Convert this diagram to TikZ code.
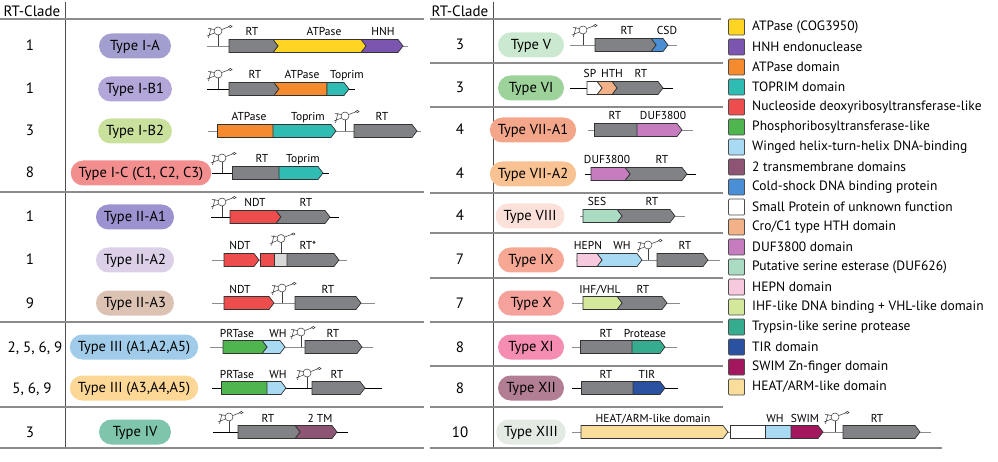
\documentclass[tikz,border=0pt]{standalone}
\usepackage{fontspec}
\setmainfont{PT Sans}
\usepackage{xcolor}
\usepackage{tikz}

%Domain colours
\definecolor{cRT}{HTML}{808285}
\definecolor{cCOG}{HTML}{FFD422}
\definecolor{cHNH}{HTML}{7B55B0}
\definecolor{cATP}{HTML}{F58A2E}
\definecolor{cTop}{HTML}{2EBCB3}
\definecolor{cNDT}{HTML}{EE4D4E}
\definecolor{cPRT}{HTML}{4EB54F}
\definecolor{cWH}{HTML}{A8DAF3}
\definecolor{cTM}{HTML}{8E5473}
\definecolor{cCSD}{HTML}{4A8ED6}
\definecolor{cSP}{HTML}{FFFFFF}
\definecolor{cHTH}{HTML}{F2B187}
\definecolor{cDUF}{HTML}{C57DBF}
\definecolor{cSES}{HTML}{A9DCC2}
\definecolor{cHEPN}{HTML}{F6C9DF}
\definecolor{cIHF}{HTML}{D4E89C}
\definecolor{cTRY}{HTML}{36AC8E}
\definecolor{cTIR}{HTML}{2B51A1}
\definecolor{cSWIM}{HTML}{A3175E}
\definecolor{cHEAT}{HTML}{F9DD9B}
\definecolor{cPart}{HTML}{D9D9D9}

%Type colours
\definecolor{pIA}{HTML}{A39ED0}
\definecolor{pIBa}{HTML}{B3A7D9}
\definecolor{pIBb}{HTML}{C9E19D}
\definecolor{pIC}{HTML}{F28E8E}
\definecolor{pIIAa}{HTML}{9C92D0}
\definecolor{pIIAb}{HTML}{DCD0E8}
\definecolor{pIIAc}{HTML}{DCC2B3}
\definecolor{pIIIa}{HTML}{A0CCEA}
\definecolor{pIIIb}{HTML}{FCD796}
\definecolor{pIV}{HTML}{7EC5AC}
\definecolor{pV}{HTML}{CBE9D0}
\definecolor{pVI}{HTML}{9DD29B}
\definecolor{pVIIAa}{HTML}{F4A68B}
\definecolor{pVIIAb}{HTML}{F8C292}
\definecolor{pVIII}{HTML}{FCE1DB}
\definecolor{pIX}{HTML}{F7A895}
\definecolor{pX}{HTML}{F4A29B}
\definecolor{pXI}{HTML}{F48DB1}
\definecolor{pXII}{HTML}{B27E94}
\definecolor{pXIII}{HTML}{E3E9E3}

%Gene shapes: fill, x start, x end, y
\newcommand{\genearrow}[4]{\filldraw[gene, fill=#1] (#2,#4-6.5) -- (#3-5,#4-6.5) -- (#3,#4) -- (#3-5,#4+6.5) -- (#2,#4+6.5) -- cycle;}
\newcommand{\genenotch}[4]{\filldraw[gene, fill=#1] (#2,#4-6.5) -- (#3-5,#4-6.5) -- (#3,#4) -- (#3-5,#4+6.5) -- (#2,#4+6.5) -- (#2+5,#4) -- cycle;}
\newcommand{\genebar}[4]{\filldraw[gene, fill=#1] (#2,#4-6.5) rectangle (#3,#4+6.5);}
\newcommand{\genenotchbar}[4]{\filldraw[gene, fill=#1] (#2,#4-6.5) -- (#3,#4-6.5) -- (#3,#4+6.5) -- (#2,#4+6.5) -- (#2+5,#4) -- cycle;}

%ncRNA hairpin
\newcommand{\ncrna}[2]{%
	\begin{scope}[shift={(#1,#2)}]
		\draw[rna] (0,0) -- (0,-11);
		\draw[rna] (0,-15) circle[radius=4pt];
		\draw[rna] (-3.5,-13) -- (-11,-10) (-3.5,-16.5) -- (-10,-17.5) (-9.5,-8) -- (-7,-18);
		\draw[rna] (3.8,-16.5) -- (10.5,-19);
		\draw[rna] (12.3,-19.5) ellipse[x radius=1.8pt, y radius=1.1pt];
	\end{scope}}

\begin{document}
\begin{tikzpicture}[x=1pt, y=-1pt,
	gene/.style={draw=black!80, line width=0.7pt},
	track/.style={line width=0.9pt, black},
	trackgray/.style={line width=0.9pt, black!45},
	rna/.style={line width=0.55pt, black!75},
	rule/.style={line width=1pt, black!70},
	sep/.style={line width=1.2pt, black!45},
	pill/.style={rounded corners=12.5pt, minimum height=25pt, minimum width=72pt, inner xsep=8pt, font=\fontsize{14.5}{17}\selectfont, text height=11pt, text depth=2pt},
	clade/.style={anchor=base, font=\fontsize{15}{17}\selectfont},
	genelabel/.style={anchor=base, inner sep=0pt, font=\fontsize{11.5}{14}\selectfont},
	keybox/.style={draw=black!70, line width=0.7pt, rounded corners=1pt, minimum size=16pt, inner sep=0pt},
	keytext/.style={anchor=west, inner sep=0pt, font=\fontsize{13.5}{15}\selectfont}]
	\useasboundingbox (0,0) rectangle (998,462);

	%Table lines
	\draw[rule] (65,2) -- (65,448);
	\draw[rule] (493,2) -- (493,448);
	\draw[sep] (0,19) -- (424,19);
	\draw[sep] (0,192) -- (424,192);
	\draw[sep] (0,322) -- (424,322);
	\draw[sep] (0,407) -- (424,407);
	\draw[sep] (0,448) -- (424,448);
	\draw[sep] (430,19) -- (721,19);
	\draw[sep] (430,63) -- (723,63);
	\draw[sep] (430,107) -- (723,107);
	\draw[sep] (430,193) -- (723,193);
	\draw[sep] (430,233) -- (723,233);
	\draw[sep] (430,278) -- (723,278);
	\draw[sep] (430,322) -- (723,322);
	\draw[sep] (430,366) -- (723,366);
	\draw[sep] (430,407) -- (723,407);
	\draw[sep] (430,448) -- (942,448);

	%Headers
	\node[clade] (hleft) at (32,16.7) {RT-Clade};
	\node[clade] (hright) at (460,16.7) {RT-Clade};

	%Type I-A
	\node[clade] (nia) at (30,51) {1};
	\node[pill, fill=pIA] (tia) at (135,46) {Type I-A};
	\draw[trackgray] (207,46) -- (408,46);
	\ncrna{218}{46}
	\genenotch{cHNH}{361}{403}{46}
	\genenotch{cCOG}{273}{366}{46}
	\genearrow{cRT}{229}{278}{46}
	\node[genelabel] (lia1) at (252,36) {RT};
	\node[genelabel] (lia2) at (324,36) {ATPase};
	\node[genelabel] (lia3) at (383,36) {HNH};

	%Type I-B1
	\node[clade] (niba) at (30,94) {1};
	\node[pill, fill=pIBa] (tiba) at (135,89) {Type I-B1};
	\draw[track] (207,89) -- (355,89);
	\ncrna{218}{89}
	\genearrow{cRT}{229}{279}{89}
	\genenotchbar{cATP}{274}{327}{89}
	\genearrow{cTop}{327}{349}{89}
	\node[genelabel] (liba1) at (255,79) {RT};
	\node[genelabel] (liba2) at (302,79) {ATPase};
	\node[genelabel] (liba3) at (347,79) {Toprim};

	%Type I-B2
	\node[clade] (nibb) at (30,136) {3};
	\node[pill, fill=pIBb] (tibb) at (135,131) {Type I-B2};
	\draw[trackgray] (208,131) -- (421,131);
	\genebar{cATP}{217}{273}{131}
	\genearrow{cTop}{273}{336}{131}
	\ncrna{345}{131}
	\genearrow{cRT}{354}{417}{131}
	\node[genelabel] (libb1) at (249,121) {ATPase};
	\node[genelabel] (libb2) at (308,121) {Toprim};
	\node[genelabel] (libb3) at (382,121) {RT};

	%Type I-C
	\node[clade] (nic) at (30,178) {8};
	\node[pill, fill=pIC] (tic) at (141,173) {Type I-C (C1, C2, C3)};
	\draw[track] (212,173) -- (329,173);
	\ncrna{222}{173}
	\genebar{cRT}{232}{279}{173}
	\genearrow{cTop}{279}{323}{173}
	\node[genelabel] (lic1) at (262,163) {RT};
	\node[genelabel] (lic2) at (303,163) {Toprim};

	%Type II-A1
	\node[clade] (niiaa) at (30,222) {1};
	\node[pill, fill=pIIAa] (tiiaa) at (135,217) {Type II-A1};
	\draw[track] (211,217) -- (339,217);
	\ncrna{222}{217}
	\genearrow{cNDT}{230}{281}{217}
	\genenotch{cRT}{276}{330}{217}
	\node[genelabel] (liiaa1) at (255,207) {NDT};
	\node[genelabel] (liiaa2) at (306,207) {RT};

	%Type II-A2
	\node[clade] (niiab) at (30,265) {1};
	\node[pill, fill=pIIAb] (tiiab) at (135,260) {Type II-A2};
	\draw[trackgray] (212,260) -- (347,260);
	\genearrow{cNDT}{224}{259}{260}
	\genebar{cNDT}{260}{274}{260}
	\genebar{cPart}{274}{287}{260}
	\genearrow{cRT}{287}{339}{260}
	\ncrna{281}{253.5}
	\node[genelabel] (liiab1) at (240,250) {NDT};
	\node[genelabel] (liiab2) at (308,250) {RT*};

	%Type II-A3
	\node[clade] (niiac) at (30,308) {9};
	\node[pill, fill=pIIAc] (tiiac) at (135,303) {Type II-A3};
	\draw[trackgray] (212,303) -- (375,303);
	\genearrow{cNDT}{224}{274}{303}
	\ncrna{282}{303}
	\genearrow{cRT}{295}{361}{303}
	\node[genelabel] (liiac1) at (240,293) {NDT};
	\node[genelabel] (liiac2) at (328,293) {RT};

	%Type III (A1,A2,A5)
	\node[clade] (niiia) at (35,352) {2, 5, 6, 9};
	\node[pill, fill=pIIIa] (tiiia) at (134,347) {Type III (A1,A2,A5)};
	\draw[trackgray] (210,347) -- (373,347);
	\genenotch{cWH}{262}{285}{347}
	\genearrow{cPRT}{223}{267}{347}
	\ncrna{301}{347}
	\genearrow{cRT}{305}{362}{347}
	\node[genelabel] (liiia1) at (237,337) {PRTase};
	\node[genelabel] (liiia2) at (278,337) {WH};
	\node[genelabel] (liiia3) at (333,337) {RT};

	%Type III (A3,A4,A5)
	\node[clade] (niiib) at (32,393) {5, 6, 9};
	\node[pill, fill=pIIIb] (tiiib) at (134,388) {Type III (A3,A4,A5)};
	\draw[track] (212,388) -- (382,388);
	\genebar{cPRT}{221}{267}{388}
	\genearrow{cWH}{267}{286}{388}
	\ncrna{307}{388}
	\genearrow{cRT}{312}{365}{388}
	\node[genelabel] (liiib1) at (237,378) {PRTase};
	\node[genelabel] (liiib2) at (278,378) {WH};
	\node[genelabel] (liiib3) at (337,378) {RT};

	%Type IV
	\node[clade] (niv) at (30,437) {3};
	\node[pill, fill=pIV] (tiv) at (135,432) {Type IV};
	\draw[track] (213,432) -- (348,432);
	\ncrna{229}{432}
	\genenotch{cTM}{295}{337}{432}
	\genearrow{cRT}{238}{300}{432}
	\node[genelabel] (liv1) at (268,422) {RT};
	\node[genelabel] (liv2) at (320,422) {2 TM};

	%Type V
	\node[clade] (nv) at (460,50) {3};
	\node[pill, fill=pV, minimum width=66pt] (tv) at (531,45) {Type V};
	\draw[trackgray] (570,45) -- (677,45);
	\ncrna{583}{45}
	\genenotch{cCSD}{651}{668}{45}
	\genearrow{cRT}{595}{656}{45}
	\node[genelabel] (lv1) at (627,35) {RT};
	\node[genelabel] (lv2) at (667,35) {CSD};

	%Type VI
	\node[clade] (nvi) at (460,93) {3};
	\node[pill, fill=pVI, minimum width=66pt] (tvi) at (531,88) {Type VI};
	\draw[track] (570,88) -- (673,88);
	\genenotch{cRT}{612}{663}{88}
	\genenotch{cHTH}{597}{617}{88}
	\genearrow{cSP}{587}{602}{88}
	\node[genelabel] (lvi1) at (590,78) {SP};
	\node[genelabel] (lvi2) at (612,78) {HTH};
	\node[genelabel] (lvi3) at (641,78) {RT};

	%Type VII-A1
	\node[clade] (nviiaa) at (460,135) {4};
	\node[pill, fill=pVIIAa, minimum width=66pt] (tviiaa) at (533,130) {Type VII-A1};
	\draw[trackgray] (588,130) -- (693,130);
	\genebar{cRT}{594}{637}{130}
	\genearrow{cDUF}{637}{682}{130}
	\node[genelabel] (lviiaa1) at (615,120) {RT};
	\node[genelabel] (lviiaa2) at (663,120) {DUF3800};

	%Type VII-A2
	\node[clade] (nviiab) at (460,179) {4};
	\node[pill, fill=pVIIAb, minimum width=66pt] (tviiab) at (533,174) {Type VII-A2};
	\draw[track] (585,174) -- (696,174);
	\genenotch{cRT}{625}{687}{174}
	\genearrow{cDUF}{591}{630}{174}
	\node[genelabel] (lviiab1) at (607,164) {DUF3800};
	\node[genelabel] (lviiab2) at (662,164) {RT};

	%Type VIII
	\node[clade] (nviii) at (460,221) {4};
	\node[pill, fill=pVIII, minimum width=66pt] (tviii) at (530,216) {Type VIII};
	\draw[trackgray] (580,216) -- (685,216);
	\genenotch{cRT}{617}{675}{216}
	\genearrow{cSES}{583}{622}{216}
	\node[genelabel] (lviii1) at (597,206) {SES};
	\node[genelabel] (lviii2) at (652,206) {RT};

	%Type IX
	\node[clade] (nix) at (460,265) {7};
	\node[pill, fill=pIX, minimum width=66pt] (tix) at (531,260) {Type IX};
	\draw[trackgray] (576,260) -- (720,260);
	\genenotch{cWH}{597}{642}{260}
	\genearrow{cHEPN}{577}{602}{260}
	\ncrna{648}{260}
	\genearrow{cRT}{657}{708}{260}
	\node[genelabel] (lix1) at (588,250) {HEPN};
	\node[genelabel] (lix2) at (622,250) {WH};
	\node[genelabel] (lix3) at (685,250) {RT};

	%Type X
	\node[clade] (nx) at (460,308) {7};
	\node[pill, fill=pX, minimum width=66pt] (tx) at (531,303) {Type X};
	\draw[trackgray] (572,303) -- (680,303);
	\genenotch{cRT}{617}{667}{303}
	\genearrow{cIHF}{583}{622}{303}
	\node[genelabel] (lx1) at (600,293) {IHF/VHL};
	\node[genelabel] (lx2) at (643,293) {RT};

	%Type XI
	\node[clade] (nxi) at (460,352) {8};
	\node[pill, fill=pXI, minimum width=66pt] (txi) at (531,347) {Type XI};
	\draw[trackgray] (572,347) -- (677,347);
	\genebar{cRT}{580}{632}{347}
	\genearrow{cTRY}{632}{665}{347}
	\node[genelabel] (lxi1) at (606,337) {RT};
	\node[genelabel] (lxi2) at (645,337) {Protease};

	%Type XII
	\node[clade] (nxii) at (460,393) {8};
	\node[pill, fill=pXII, minimum width=66pt] (txii) at (531,388) {Type XII};
	\draw[track] (572,388) -- (678,388);
	\genebar{cRT}{581}{633}{388}
	\genearrow{cTIR}{633}{665}{388}
	\node[genelabel] (lxii1) at (606,378) {RT};
	\node[genelabel] (lxii2) at (647,378) {TIR};

	%Type XIII
	\node[clade] (nxiii) at (460,437) {10};
	\node[pill, fill=pXIII, minimum width=66pt] (txiii) at (531,432) {Type XIII};
	\draw[trackgray] (572,432) -- (931,432);
	\genearrow{cHEAT}{581}{728}{432}
	\genebar{cSP}{730}{765}{432}
	\genebar{cWH}{765}{791}{432}
	\genearrow{cSWIM}{791}{823}{432}
	\ncrna{835}{432}
	\genearrow{cRT}{843}{920}{432}
	\node[genelabel] (lxiii1) at (653,422) {HEAT/ARM-like domain};
	\node[genelabel] (lxiii2) at (775,422) {WH};
	\node[genelabel] (lxiii3) at (805,422) {SWIM};
	\node[genelabel] (lxiii4) at (877,422) {RT};

	%Legend
	\node[keybox, fill=cCOG] (k1) at (736.5,27) {};
	\node[keytext] (t1) at (752,27) {ATPase (COG3950)};
	\node[keybox, fill=cHNH] (k2) at (736.5,47) {};
	\node[keytext] (t2) at (752,47) {HNH endonuclease};
	\node[keybox, fill=cATP] (k3) at (736.5,67) {};
	\node[keytext] (t3) at (752,67) {ATPase domain};
	\node[keybox, fill=cTop] (k4) at (736.5,87) {};
	\node[keytext] (t4) at (752,87) {TOPRIM domain};
	\node[keybox, fill=cNDT] (k5) at (736.5,107) {};
	\node[keytext] (t5) at (752,107) {Nucleoside deoxyribosyltransferase-like};
	\node[keybox, fill=cPRT] (k6) at (736.5,127) {};
	\node[keytext] (t6) at (752,127) {Phosphoribosyltransferase-like};
	\node[keybox, fill=cWH] (k7) at (736.5,147) {};
	\node[keytext] (t7) at (752,147) {Winged helix-turn-helix DNA-binding};
	\node[keybox, fill=cTM] (k8) at (736.5,167) {};
	\node[keytext] (t8) at (752,167) {2 transmembrane domains};
	\node[keybox, fill=cCSD] (k9) at (736.5,187) {};
	\node[keytext] (t9) at (752,187) {Cold-shock DNA binding protein};
	\node[keybox, fill=cSP] (k10) at (736.5,207) {};
	\node[keytext] (t10) at (752,207) {Small Protein of unknown function};
	\node[keybox, fill=cHTH] (k11) at (736.5,227) {};
	\node[keytext] (t11) at (752,227) {Cro/C1 type HTH domain};
	\node[keybox, fill=cDUF] (k12) at (736.5,247) {};
	\node[keytext] (t12) at (752,247) {DUF3800 domain};
	\node[keybox, fill=cSES] (k13) at (736.5,267) {};
	\node[keytext] (t13) at (752,267) {Putative serine esterase (DUF626)};
	\node[keybox, fill=cHEPN] (k14) at (736.5,287) {};
	\node[keytext] (t14) at (752,287) {HEPN domain};
	\node[keybox, fill=cIHF] (k15) at (736.5,307) {};
	\node[keytext] (t15) at (752,307) {IHF-like DNA binding + VHL-like domain};
	\node[keybox, fill=cTRY] (k16) at (736.5,327) {};
	\node[keytext] (t16) at (752,327) {Trypsin-like serine protease};
	\node[keybox, fill=cTIR] (k17) at (736.5,347) {};
	\node[keytext] (t17) at (752,347) {TIR domain};
	\node[keybox, fill=cSWIM] (k18) at (736.5,367) {};
	\node[keytext] (t18) at (752,367) {SWIM Zn-finger domain};
	\node[keybox, fill=cHEAT] (k19) at (736.5,387) {};
	\node[keytext] (t19) at (752,387) {HEAT/ARM-like domain};
\end{tikzpicture}
\end{document}
